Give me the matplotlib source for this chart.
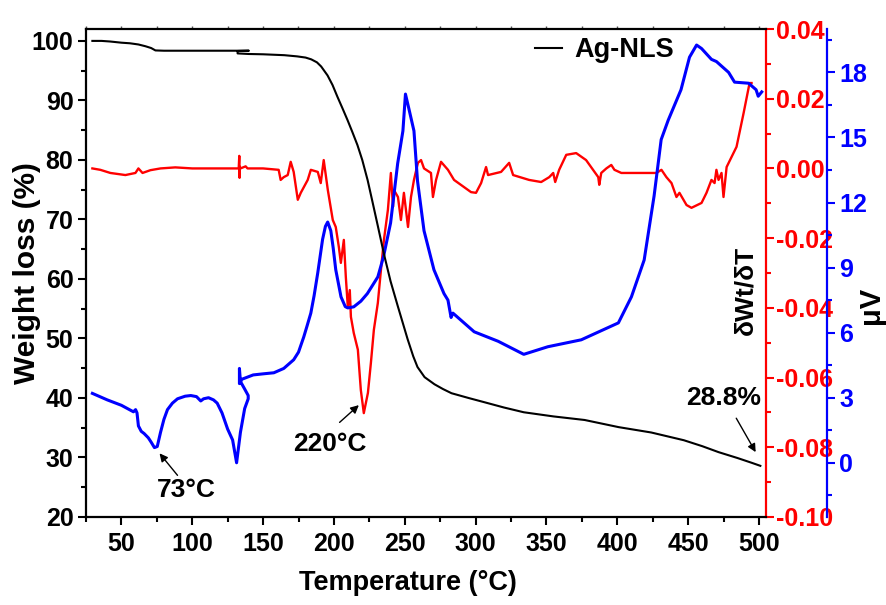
import matplotlib
matplotlib.use("Agg")
import matplotlib.pyplot as plt
from matplotlib.ticker import MultipleLocator, FuncFormatter
from matplotlib.lines import Line2D

plt.rcParams['font.family'] = ['Liberation Sans', 'DejaVu Sans']
plt.rcParams['font.weight'] = 'bold'

# ---- TGA (weight loss, %) ----
tga_T = [29.5, 36, 42, 50, 56, 62, 67, 71, 74, 80, 100, 120, 140, 132, 132, 140, 150, 165,
         174, 180, 184, 188, 191, 195.5, 199, 202.5, 206, 209.6, 213, 216.6, 220, 223.8, 227,
         231, 235.5, 240, 245, 249, 252, 256, 259, 264, 271, 277, 283, 295, 306, 320, 334,
         355, 377, 401, 424, 447, 460, 471.5, 485, 495, 501]
tga_W = [100, 100, 99.9, 99.7, 99.6, 99.4, 99.1, 98.8, 98.4, 98.35, 98.35, 98.35, 98.35, 98.3,
         97.9, 97.8, 97.75, 97.6, 97.4, 97.2, 96.9, 96.4, 95.7, 94.2, 92.6, 90.6, 88.7, 86.7,
         84.7, 82.5, 80.0, 76.6, 73.2, 68.9, 64.0, 59.6, 55.5, 52.3, 49.9, 47.0, 45.2, 43.5,
         42.3, 41.5, 40.8, 40.0, 39.3, 38.4, 37.6, 36.9, 36.3, 35.1, 34.2, 32.9, 31.9, 30.9,
         29.9, 29.1, 28.6]

# ---- DTG (dWt/dT) ----
dtg_T = [29.5, 35.1, 42.2, 52.8, 59.9, 62, 64.9, 70.5, 77.6, 88, 100, 120, 132.8, 133.2, 133.4,
         133.6, 134, 137.7, 139, 150, 161, 162.4, 164.6, 167.4, 169.5, 171.6, 174.5, 176.6,
         181.5, 183.7, 188.6, 190.7, 192.8, 195.7, 199.2, 201.3, 203.5, 204.9, 207, 208.4,
         209.8, 211.2, 212, 214, 216.9, 219, 221.1, 224, 226.1, 228.2, 231, 233.2, 235.3,
         238.1, 240.2, 241.7, 242.4, 245.2, 247.3, 249.4, 252.3, 254.4, 256.5, 259.3, 261.5,
         263.6, 268.5, 269.9, 272.1, 275.6, 280.5, 284.8, 296.8, 300.3, 303.9, 307.4, 308.8,
         318, 323.7, 326.5, 337.8, 346.3, 352, 354.8, 356.2, 359, 364, 371, 378, 386.6, 387.3,
         388.7, 392.3, 395.8, 398, 402.9, 427.6, 431.2, 434.7, 438.3, 441.8, 443.9, 448.9,
         452.4, 459.5, 463, 466.5, 468.7, 470, 471.5, 473.6, 475, 477.2, 484.2, 489.2, 493.4,
         494.8]
dtg_R = [0.0, -0.0004, -0.0013, -0.0019, -0.0013, 0.0, -0.0013, -0.0005, 0.0, 0.0003, 0.0,
         0.0, 0.0, 0.0036, -0.0027, 0.0005, 0.0, 0.0006, 0.0, 0.0, -0.0004, -0.0033, -0.0025,
         -0.0019, 0.0019, -0.001, -0.009, -0.007, -0.0033, -0.0004, -0.001, -0.0042, 0.0024,
         -0.0062, -0.0148, -0.0168, -0.0226, -0.0271, -0.0205, -0.0311, -0.0397, -0.0349,
         -0.0426, -0.0472, -0.052, -0.0636, -0.0702, -0.0644, -0.0558, -0.0463, -0.0386,
         -0.0291, -0.0205, -0.0119, -0.0013, -0.011, -0.0062, -0.0082, -0.0148, -0.007,
         -0.0168, -0.0082, -0.0033, 0.0016, 0.0024, 0.0, -0.0013, -0.0082, -0.0033, 0.0019,
         -0.0004, -0.0033, -0.0068, -0.007, -0.0042, 0.0004, -0.0019, -0.001, 0.0016, -0.0019,
         -0.0033, -0.0039, -0.0025, -0.0013, -0.0039, -0.0004, 0.0039, 0.0044, 0.0024, -0.0025,
         -0.0047, -0.0013, 0.0, 0.001, -0.0004, -0.0013, -0.0013, -0.0004, -0.0025, -0.0042,
         -0.0082, -0.007, -0.0105, -0.0113, -0.0099, -0.007, -0.0033, -0.0042, -0.0004,
         -0.0033, -0.0013, -0.0082, 0.0004, 0.0062, 0.0159, 0.0245, 0.0245]

# ---- DTA (uV) ----
dta_T = [29.5, 40, 50, 58.5, 60, 61, 62, 64, 66, 69, 71, 73.3, 75.3, 77.6, 80, 82.5, 86, 89.6,
         95, 99, 103, 106, 108, 111.5, 115, 117.6, 121, 125, 128.5, 131.3, 134, 137, 139.5,
         139.5, 137, 134, 133.3, 133.3, 135, 143, 150, 157.6, 164.6, 171.6, 175, 178.7, 181,
         183.7, 186, 188.6, 192, 194, 195.6, 197.8, 199.5, 201.3, 205, 208, 209.8, 214, 219,
         223.6, 231, 235, 240, 245, 248.7, 250.5, 253, 256.5, 259, 263.6, 270.6, 277.7, 280.5,
         282.7, 284, 299, 316, 334, 351, 374.6, 400.8, 410, 419, 426, 431, 436, 445, 451, 456,
         459.5, 466.5, 470, 478.6, 482.8, 492.7, 498, 499.5, 502]
dta_V = [3.2, 2.9, 2.65, 2.35, 2.45, 2.3, 1.7, 1.45, 1.35, 1.15, 0.95, 0.7, 0.75, 1.4, 2.0, 2.45,
         2.75, 2.95, 3.07, 3.1, 3.05, 2.85, 2.95, 3.0, 2.9, 2.75, 2.3, 1.55, 1.05, 0.0, 1.4, 2.5,
         2.95, 3.1, 3.4, 3.75, 4.35, 3.65, 3.85, 4.05, 4.1, 4.15, 4.35, 4.75, 5.1, 5.8, 6.3,
         6.9, 7.7, 8.76, 10.3, 10.9, 11.1, 10.7, 9.9, 8.9, 7.65, 7.2, 7.14, 7.19, 7.45, 7.8,
         8.57, 9.5, 11.06, 13.8, 15.3, 17.0, 16.3, 15.3, 13.0, 10.7, 8.9, 7.8, 7.5, 6.7, 6.9,
         6.04, 5.6, 5.0, 5.35, 5.67, 6.45, 7.65, 9.35, 12.3, 14.9, 15.8, 17.2, 18.7, 19.26,
         19.1, 18.6, 18.5, 18.0, 17.55, 17.5, 17.2, 16.9, 17.1]

x_ticks = [50, 100, 150, 200, 250, 300, 350, 400, 450, 500]
legend_label = "Ag-NLS"

FS = 18
FA = 19
fig = plt.figure(figsize=(8.86, 6.05), dpi=100)
ax = fig.add_axes([86/886, 88/605, 680/886, 488/605])
ax_r = ax.twinx()
ax_b = ax.twinx()

ax_r.plot(dtg_T, dtg_R, color='#ff0000', lw=1.7, zorder=2)
ax_b.plot(dta_T, dta_V, color='#0000ff', lw=2.2, zorder=3)
ax.plot(tga_T, tga_W, color='black', lw=1.5, zorder=4)
ax.set_zorder(3)
ax.patch.set_visible(False)
ax_b.set_zorder(2)
ax_r.set_zorder(1)

ax.set_xlim(25, 505)
ax.set_ylim(20, 102)
ax_r.set_ylim(-0.10, 0.04)
ax_b.set_ylim(-2.5, 20)

ax.set_xticks(x_ticks)
ax.xaxis.set_minor_locator(MultipleLocator(25))
ax.yaxis.set_major_locator(MultipleLocator(10))
ax.yaxis.set_minor_locator(MultipleLocator(5))
ax_r.yaxis.set_major_locator(MultipleLocator(0.02))
ax_r.yaxis.set_minor_locator(MultipleLocator(0.01))
ax_r.yaxis.set_major_formatter(FuncFormatter(lambda v, p: '%.2f' % (round(v, 2) + 0.0)
                                             if abs(v) > 1e-9 else '0.00'))
ax_b.yaxis.set_major_locator(MultipleLocator(3))
ax_b.yaxis.set_minor_locator(MultipleLocator(1.5))

for s in ax.spines.values():
    s.set_linewidth(1.6)
ax.spines['right'].set_visible(False)
for a in (ax_r, ax_b):
    for k in ('left', 'top', 'bottom'):
        a.spines[k].set_visible(False)
ax_r.spines['right'].set_color('#ff0000')
ax_r.spines['right'].set_linewidth(1.6)
ax_b.spines['right'].set_color('#0000ff')
ax_b.spines['right'].set_linewidth(1.6)
ax_b.spines['right'].set_position(('outward', 61 * 72 / 100))

ax.tick_params(axis='both', which='major', direction='out', length=6, width=1.5,
               labelsize=FS, top=False, right=False)
ax.tick_params(axis='both', which='minor', direction='out', length=3.5, width=1.5,
               top=False, right=False)
ax.tick_params(axis='x', which='major', pad=5)
ax.tick_params(axis='y', which='major', pad=3)

top = ax.secondary_xaxis('top')
top.set_xticks(x_ticks)
top.xaxis.set_minor_locator(MultipleLocator(25))
top.tick_params(axis='x', which='both', direction='out', length=2.5, width=1.0,
                labeltop=False, colors='#555555')
top.spines['top'].set_visible(False)

ax_r.tick_params(axis='y', which='major', direction='out', length=6, width=1.5,
                 colors='#ff0000', labelsize=FS, pad=1)
ax_r.tick_params(axis='y', which='minor', direction='out', length=3.5, width=1.5,
                 colors='#ff0000')
ax_b.tick_params(axis='y', which='major', direction='out', length=6, width=1.5,
                 colors='#0000ff', labelsize=FS, pad=3)
ax_b.tick_params(axis='y', which='minor', direction='out', length=3.5, width=1.5,
                 colors='#0000ff')
for a in (ax, ax_r, ax_b):
    for lab in a.get_xticklabels() + a.get_yticklabels():
        lab.set_fontweight('bold')

ax.set_xlabel('Temperature (°C)', fontsize=19.5, fontweight='bold')
ax.xaxis.set_label_coords(0.474, -0.108)
ax.set_ylabel('Weight loss (%)', fontsize=21.5, fontweight='bold')
ax.yaxis.set_label_coords(-0.066, 0.5)

ax.text((745 - 86) / 680, (517 - 290) / 488, 'δWt/δT', rotation=90, ha='center',
        va='center', fontsize=19, fontweight='bold', transform=ax.transAxes)
fig.text(871 / 886, 1 - 305 / 605, 'μV', rotation=90, ha='center', va='center',
         fontsize=21, fontweight='bold')

leg = ax.legend([Line2D([], [], color='black', lw=1.5)], [legend_label],
                loc='center left', bbox_to_anchor=((535 - 86) / 680, (517 - 50) / 488),
                frameon=False, borderpad=0, borderaxespad=0, handlelength=1.0,
                handletextpad=0.45, prop={'size': 19.5, 'weight': 'bold'})

arrow = dict(arrowstyle='-|>', color='black', lw=1.0, mutation_scale=12, shrinkA=0, shrinkB=0)
ax.annotate('', xy=(76.9, 30.7), xytext=(89.6, 27.0), arrowprops=arrow)
ax.text(96, 24.5, '73°C', ha='center', va='center', fontsize=FA, fontweight='bold')
ax.annotate('', xy=(217.6, 38.8), xytext=(204, 35.9), arrowprops=arrow)
ax.text(197, 32.2, '220°C', ha='center', va='center', fontsize=FA, fontweight='bold')
ax.annotate('', xy=(497.7, 30.9), xytext=(484, 36.6), arrowprops=arrow)
ax.text(475, 40.0, '28.8%', ha='center', va='center', fontsize=FA, fontweight='bold')

fig.savefig('out.png', dpi=100)
